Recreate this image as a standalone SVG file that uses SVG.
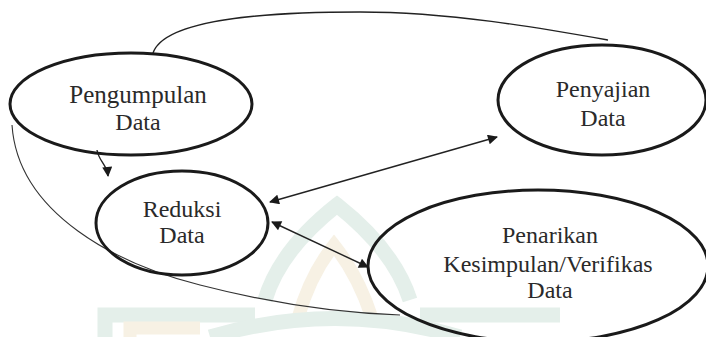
<svg xmlns="http://www.w3.org/2000/svg" width="706" height="337" viewBox="0 0 706 337">
<defs>
<style>
.node{fill:none;stroke:#1a1a1a;stroke-width:3}
.lbl{font-family:Liberation Serif, Tinos, Times New Roman, DejaVu Serif, Noto Serif, serif;font-size:24px;fill:#2a2a2a;text-anchor:middle}
.con{fill:none;stroke:#222;stroke-width:1.4}
.thin{fill:none;stroke:#333;stroke-width:1.1}
.wm-t{fill:none;stroke:#e4efea;stroke-width:15}
.wm-y{fill:none;stroke:#f7f1e4;stroke-width:13}
</style>
<marker id="ah" viewBox="0 0 10 10" refX="9" refY="5" markerWidth="12" markerHeight="10" markerUnits="userSpaceOnUse" orient="auto-start-reverse">
<path d="M0,0 L10,5 L0,10 Z" fill="#1a1a1a"/>
</marker>
<clipPath id="clipD"><rect x="0" y="115" width="300" height="40"/></clipPath>
</defs>
<rect width="706" height="337" fill="#ffffff"/>
<g id="watermark">
<path class="wm-t" d="M265,300 Q280,250 337,205 Q394,250 410,300"/>
<path class="wm-y" d="M298,318 Q310,275 334,245 Q358,275 372,318"/>
<path class="wm-t" d="M105,337 L105,315 L255,315"/>
<path class="wm-t" d="M420,315 L560,315"/>
<path class="wm-y" d="M130,337 L130,328 L200,328"/>
<path class="wm-t" d="M210,337 Q335,300 460,337"/>
</g>
<g id="connectors">
<path class="con" d="M153,53 C165,18 270,12 360,12 C450,12 540,28 608,40"/>
<path class="con" d="M97,150 C99,162 107,164 108,176" marker-end="url(#ah)"/>
<path class="thin" d="M12,125 C18,215 120,265 200,285 C270,303 340,313 400,315"/>
<path class="con" d="M270,202 L497,137" marker-start="url(#ah)" marker-end="url(#ah)"/>
<path class="con" d="M272,222 L368,267" marker-start="url(#ah)" marker-end="url(#ah)"/>
</g>
<g id="pengumpulan">
<ellipse class="node" cx="131" cy="104" rx="121" ry="51"/>
<text class="lbl" x="138" y="103" style="font-size:25px">Pengumpulan</text>
<text class="lbl" x="138" y="130" clip-path="url(#clipD)">Data</text>
</g>
<g id="penyajian">
<ellipse class="node" cx="602" cy="100" rx="104" ry="55"/>
<text class="lbl" x="603" y="97">Penyajian</text>
<text class="lbl" x="603" y="126">Data</text>
</g>
<g id="reduksi">
<ellipse class="node" cx="182" cy="223" rx="86" ry="52"/>
<text class="lbl" x="182" y="217">Reduksi</text>
<text class="lbl" x="182" y="243">Data</text>
</g>
<g id="penarikan">
<ellipse class="node" cx="538" cy="266" rx="170" ry="76"/>
<text class="lbl" x="550" y="243">Penarikan</text>
<text class="lbl" x="548" y="272">Kesimpulan/Verifikas</text>
<text class="lbl" x="550" y="298">Data</text>
</g>
</svg>
